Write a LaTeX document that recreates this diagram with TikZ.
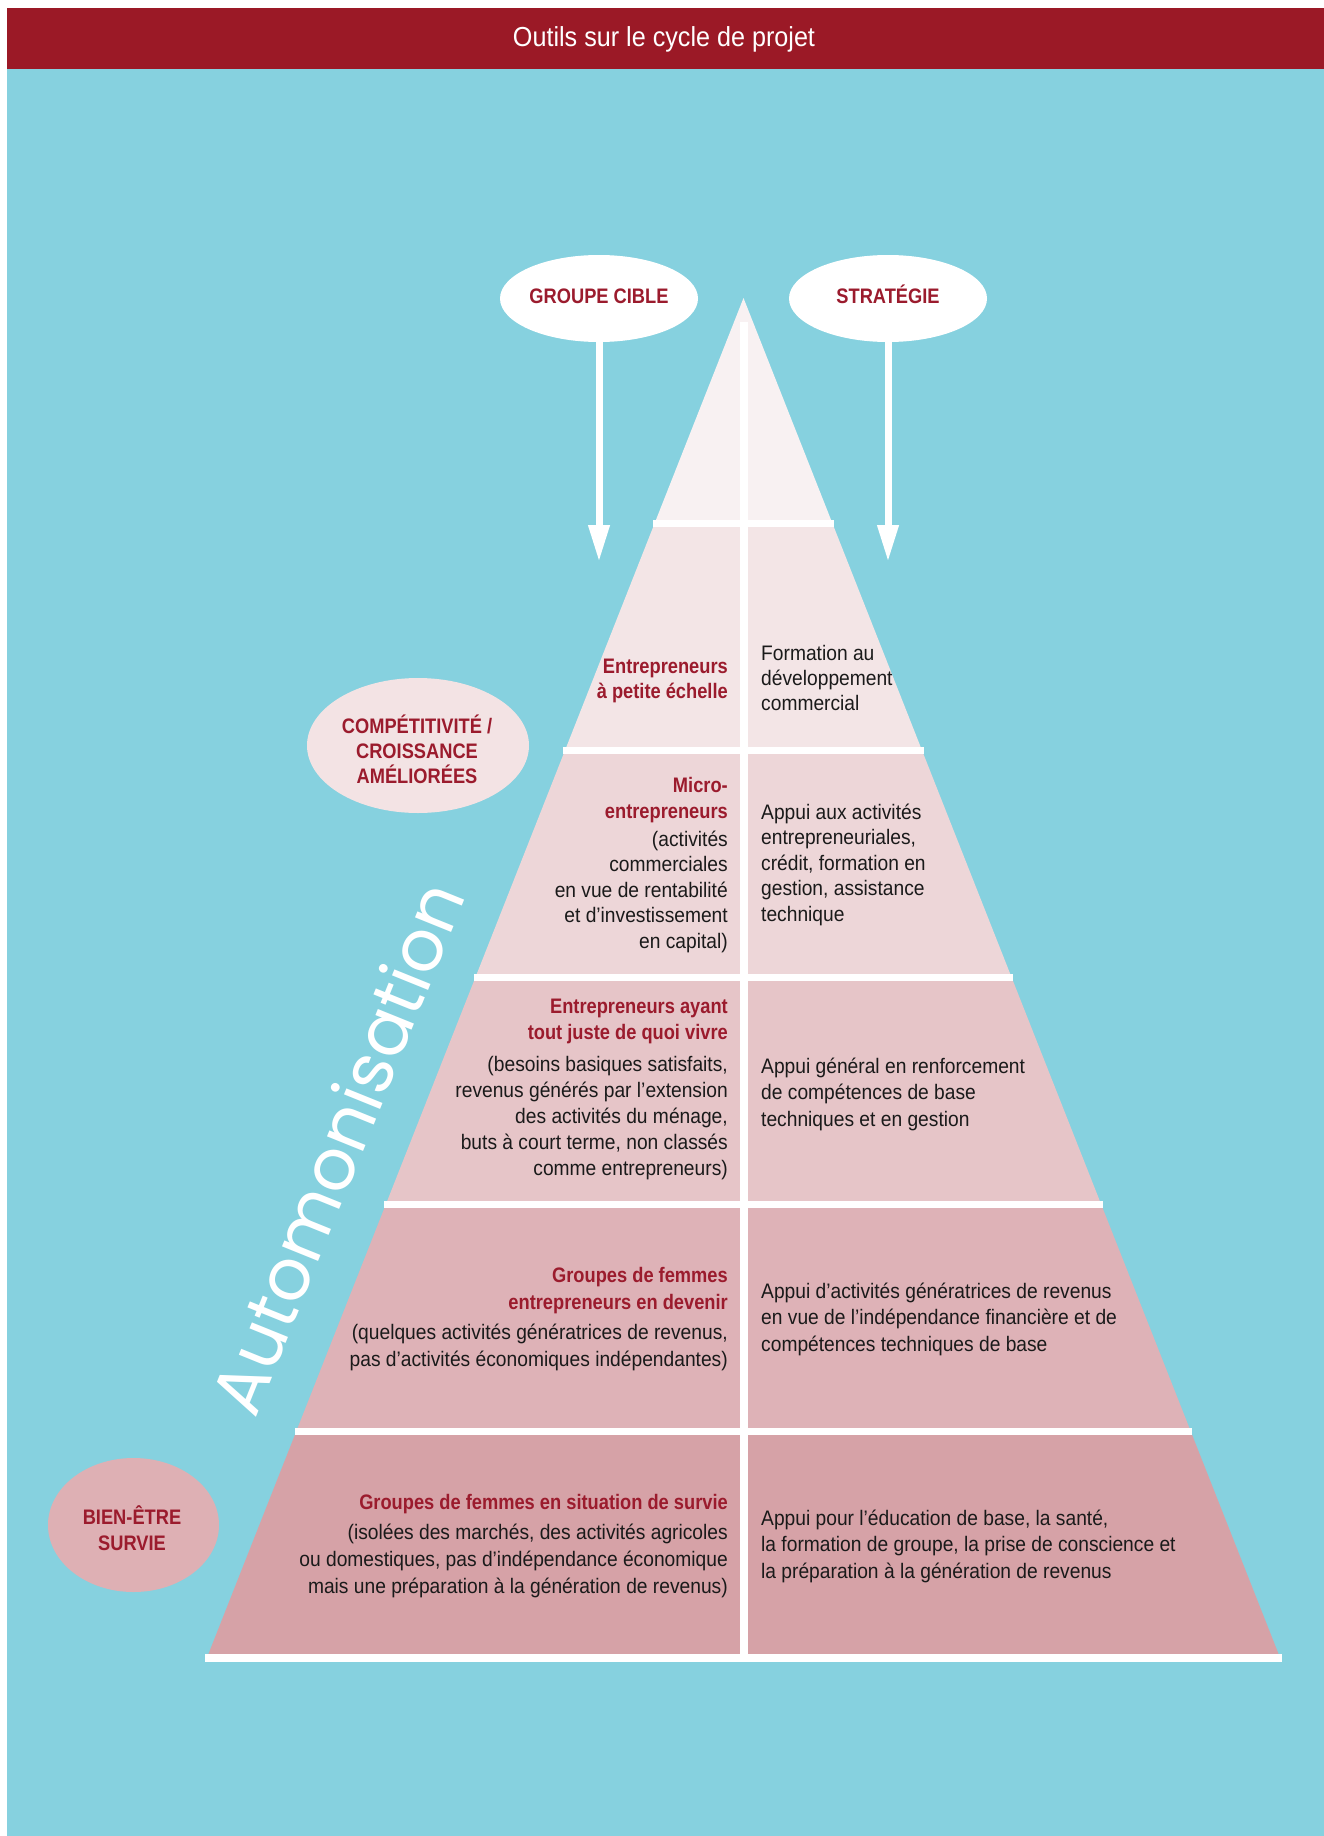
\documentclass[tikz,border=0pt]{standalone}
\usepackage{fontspec}
\usetikzlibrary{shapes.geometric,arrows.meta}
\newfontfamily\txt[FakeStretch=0.915,BoldFeatures={FakeStretch=0.87}]{Liberation Sans}
\newfontfamily\autofont{Poppins}
\definecolor{sky}{HTML}{86D1DF}
\definecolor{wine}{HTML}{9B1926}
\definecolor{labelred}{HTML}{9B1B2D}
\definecolor{ink}{HTML}{1A1A1A}
\definecolor{tierA}{HTML}{F8F1F2}
\definecolor{tierB}{HTML}{F3E5E6}
\definecolor{tierC}{HTML}{EDD6D8}
\definecolor{tierD}{HTML}{E6C5C8}
\definecolor{tierE}{HTML}{DEB2B7}
\definecolor{tierF}{HTML}{D6A2A7}
\definecolor{growthfill}{HTML}{F3E3E4}
\definecolor{survivalfill}{HTML}{DEB0B4}
\newcommand\hd[1]{{\bfseries\color{labelred}#1}}
% multi-line nodes below are anchored on the baseline of their last line
\tikzset{
  bubble/.style={ellipse,inner sep=0pt,draw=none},
  bubtext/.style={anchor=base,align=center,inner sep=0pt,text=labelred,
    font=\txt\bfseries\fontsize{21}{25}\selectfont},
  arrowline/.style={draw=white,line width=7pt,-{Triangle[width=20pt,length=37pt]}},
  lefttext/.style={anchor=base east,align=right,inner sep=0pt,text=ink,
    font=\txt\fontsize{21}{#1}\selectfont},
  righttext/.style={anchor=base west,align=left,inner sep=0pt,text=ink,
    font=\txt\fontsize{21}{#1}\selectfont},
  divider/.style={fill=white}
}
\begin{document}
\begin{tikzpicture}[x=1pt,y=-1pt,
  declare function={xl(\t)=743.5-0.3946*(\t-298); xr(\t)=743.5+0.3946*(\t-298);}]
\useasboundingbox (0,0) rectangle (1324,1836);
\fill[white] (0,0) rectangle (1324,1836);
\fill[sky] (7,69) rectangle (1324,1836);
\fill[wine] (7,8) rectangle (1324,69);
\node[anchor=base,inner sep=0pt,text=white,font=\txt\fontsize{27.5}{30}\selectfont]
  (title) at (664,47) {Outils sur le cycle de projet};

% pyramid tiers
\foreach \ya/\yb/\c in {298/523.5/tierA,523.5/750.5/tierB,750.5/977.5/tierC,
  977.5/1204.5/tierD,1204.5/1431.5/tierE,1431.5/1658/tierF}
  \fill[\c] ({xl(\ya)},\ya) -- ({xr(\ya)},\ya) -- ({xr(\yb)},\yb) -- ({xl(\yb)},\yb) -- cycle;
% white separators
\foreach \yc in {523.5,750.5,977.5,1204.5,1431.5,1658}
  \fill[divider] ({xl(\yc+3.75)},\yc-3.75) rectangle ({xr(\yc+3.75)},\yc+3.75);
\fill[divider] (740,322) rectangle (747.5,1658);

% heading bubbles and arrows
\node[bubble,fill=white,minimum width=198pt,minimum height=87pt] (target) at (599,298.5) {};
\node[bubtext] (targettext) at (599,303) {GROUPE CIBLE};
\node[bubble,fill=white,minimum width=198pt,minimum height=87pt] (strategy) at (888,298.5) {};
\node[bubtext] (strategytext) at (888,303) {STRATÉGIE};
\coordinate (targettip) at (599,562);
\coordinate (strategytip) at (888,562);
\draw[arrowline] (target.south) -- (targettip);
\draw[arrowline] (strategy.south) -- (strategytip);

% side bubbles
\node[bubble,fill=growthfill,minimum width=222pt,minimum height=135pt] (growth) at (418,745.5) {};
\node[bubtext] (growthtext) at (417,783) {COMPÉTITIVITÉ /\\CROISSANCE\\AMÉLIORÉES};
\node[bubble,fill=survivalfill,minimum width=171pt,minimum height=134pt] (survival) at (133.5,1525) {};
\node[bubtext,font=\txt\bfseries\fontsize{21}{26}\selectfont] (survivaltext) at (132,1550) {BIEN-ÊTRE\\SURVIE};

% rotated label along the left side
\node[anchor=base,inner sep=0pt,rotate=68,text=white,font=\autofont\fontsize{71}{71}\selectfont]
  (autonomy) at (361,1157) {Automonisation};

% tier 2
\node[lefttext=25] (t2l) at (728,698) {\hd{Entrepreneurs}\\\hd{à petite échelle}};
\node[righttext=25] (t2r) at (761,710) {Formation au\\développement\\commercial};
% tier 3
\node[lefttext=25.5] (t3l) at (728,948) {\hd{Micro-}\\\hd{entrepreneurs}\\[2.5pt]
  (activités\\commerciales\\en vue de rentabilité\\et d’investissement\\en capital)};
\node[righttext=25.4] (t3r) at (761,921) {Appui aux activités\\entrepreneuriales,\\
  crédit, formation en\\gestion, assistance\\technique};
% tier 4
\node[lefttext=26] (t4l) at (728,1175) {\hd{Entrepreneurs ayant}\\\hd{tout juste de quoi vivre}\\[5.5pt]
  (besoins basiques satisfaits,\\revenus générés par l’extension\\des activités du ménage,\\
  buts à court terme, non classés\\comme entrepreneurs)};
\node[righttext=26.5] (t4r) at (761,1126) {Appui général en renforcement\\
  de compétences de base\\techniques et en gestion};
% tier 5
\node[lefttext=27] (t5l) at (728,1366) {\hd{Groupes de femmes}\\\hd{entrepreneurs en devenir}\\[3pt]
  (quelques activités génératrices de revenus,\\pas d’activités économiques indépendantes)};
\node[righttext=26.5] (t5r) at (761,1351) {Appui d’activités génératrices de revenus\\
  en vue de l’indépendance financière et de\\compétences techniques de base};
% tier 6
\node[lefttext=27] (t6l) at (728,1593) {\hd{Groupes de femmes en situation de survie}\\[3pt]
  (isolées des marchés, des activités agricoles\\ou domestiques, pas d’indépendance économique\\
  mais une préparation à la génération de revenus)};
\node[righttext=26.5] (t6r) at (761,1578) {Appui pour l’éducation de base, la santé,\\
  la formation de groupe, la prise de conscience et\\la préparation à la génération de revenus};
\end{tikzpicture}
\end{document}
